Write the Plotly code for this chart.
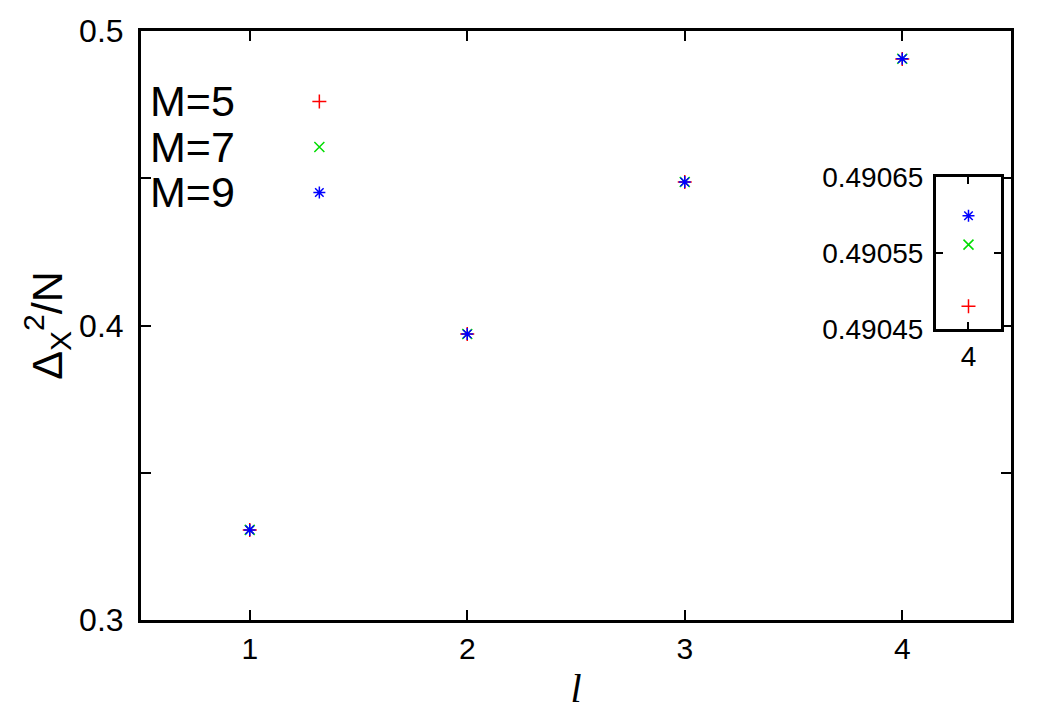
import plotly.graph_objects as go

# Data
l_vals = [1, 2, 3, 4]
series_names = ["M=5", "M=7", "M=9"]
m5 = [0.3306, 0.3971, 0.4487, 0.49048]
m7 = [0.3306, 0.3971, 0.4487, 0.490561]
m9 = [0.3306, 0.3971, 0.4487, 0.490599]
inset_l = [4]
inset_m5 = [0.49048]
inset_m7 = [0.490561]
inset_m9 = [0.490599]

main_yticks = [0.3, 0.35, 0.4, 0.45, 0.5]
main_yticktext = ["0.3", "", "0.4", "", "0.5"]
inset_yticks = [0.49045, 0.49055, 0.49065]
inset_yticktext = ["0.49045", "0.49055", "0.49065"]

colors = ["#ff0000", "#00dd00", "#0000ff"]
symbols = ["cross-thin-open", "x-thin-open", "asterisk-open"]
sizes = [10, 10, 10]

FONT = "Liberation Sans, Arial, sans-serif"

fig = go.Figure()

all_main = [m5, m7, m9]
all_inset = [inset_m5, inset_m7, inset_m9]
for i in range(3):
    fig.add_trace(go.Scatter(
        x=l_vals, y=all_main[i], mode="markers", name=series_names[i],
        marker=dict(symbol=symbols[i], size=sizes[i], color=colors[i],
                    line=dict(color=colors[i], width=1.5)),
        xaxis="x", yaxis="y", showlegend=False))
for i in range(3):
    fig.add_trace(go.Scatter(
        x=inset_l, y=all_inset[i], mode="markers", name=series_names[i],
        marker=dict(symbol=symbols[i], size=sizes[i], color=colors[i],
                    line=dict(color=colors[i], width=1.5)),
        xaxis="x2", yaxis="y2", showlegend=False))
# Legend keys (gnuplot style: text left, symbol right)
for i in range(3):
    fig.add_trace(go.Scatter(
        x=[0], y=[2 - i], mode="markers", name=series_names[i],
        marker=dict(symbol=symbols[i], size=sizes[i], color=colors[i],
                    line=dict(color=colors[i], width=1.5)),
        xaxis="x3", yaxis="y3", showlegend=False, hoverinfo="skip"))

# Legend texts
ly = [0.8812, 0.8031, 0.7267]
for i in range(3):
    fig.add_annotation(text=series_names[i], xref="paper", yref="paper",
                       x=0.1103, y=ly[i], xanchor="right", yanchor="middle",
                       showarrow=False, font=dict(family=FONT, size=43, color="black"))

axis_common = dict(showline=True, linecolor="black", linewidth=3, mirror="allticks",
                   ticks="inside", tickcolor="black", tickwidth=1.5, showgrid=False,
                   zeroline=False, automargin=False)

fig.update_layout(
    width=1043, height=708,
    margin=dict(l=133, r=40, t=23, b=96),
    paper_bgcolor="white", plot_bgcolor="rgba(0,0,0,0)",
    xaxis=dict(range=[0.5, 4.5], tickvals=l_vals, ticklen=10,
               tickfont=dict(family=FONT, size=30, color="black"),
               ticklabelstandoff=0,
               title=dict(text="l", font=dict(family="Liberation Serif, Times New Roman, serif",
                                              size=40, color="black", style="italic"),
                          standoff=10),
               **axis_common),
    yaxis=dict(range=[0.3, 0.5], tickvals=main_yticks, ticktext=main_yticktext, ticklen=10,
               tickfont=dict(family=FONT, size=32, color="black"),
               ticklabelstandoff=8,
               title=dict(text="Δ<sub>X</sub><sup>2</sup>/N",
                          font=dict(family=FONT, size=43, color="black"), standoff=4),
               **axis_common),
    xaxis2=dict(domain=[0.9138, 0.9885], range=[3.95, 4.05], tickvals=inset_l, ticklen=7,
                tickfont=dict(family=FONT, size=28, color="black"),
                ticklabelstandoff=0,
                anchor="y2", **axis_common),
    yaxis2=dict(domain=[0.4941, 0.7521], range=[0.49045, 0.49065], tickvals=inset_yticks,
                ticktext=inset_yticktext, ticklen=7,
                tickfont=dict(family=FONT, size=28, color="black"),
                ticklabelstandoff=4,
                anchor="x2", **axis_common),
    xaxis3=dict(domain=[0.17, 0.24], range=[-1, 1], visible=False, anchor="y3"),
    yaxis3=dict(domain=[0.681, 0.9252], range=[-0.58, 2.58], visible=False, anchor="x3"),
)

fig.write_html("out.html")
